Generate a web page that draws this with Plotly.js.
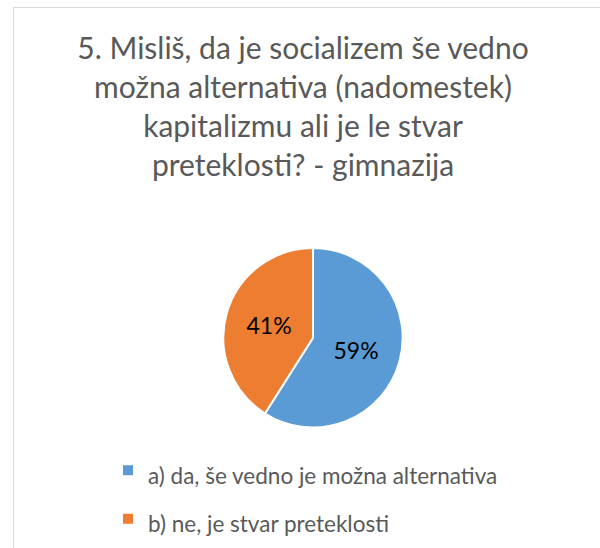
<!DOCTYPE html>
<html>
<head>
<meta charset="utf-8">
<script src="https://cdn.plot.ly/plotly-3.0.1.min.js"></script>
<style>
html, body { margin: 0; padding: 0; background: #ffffff; }
#frame { position: absolute; left: 13px; top: 7px; width: 640px; height: 600px; border: 1.5px solid #d9d9d9; box-sizing: border-box; }
#chart { position: absolute; left: 0; top: 0; width: 600px; height: 548px; }
</style>
</head>
<body>
<div id="frame"></div>
<div id="chart"></div>
<script>
const titleLines = ["5. Misliš, da je socializem še vedno", "možna alternativa (nadomestek)", "kapitalizmu ali je le stvar", "preteklosti? - gimnazija"];
const categories = ["a) da, še vedno je možna alternativa", "b) ne, je stvar preteklosti"];
const values = [59, 41];
const colors = ["#5B9BD5", "#ED7D31"];

const FONT = "Lato, 'Open Sans', sans-serif";

const data = [{
  type: "pie",
  labels: categories.map(c => '<span style="font-size:22.5px">' + c + '</span>'),
  values: values,
  sort: false,
  direction: "clockwise",
  rotation: 0,
  marker: { colors: colors, line: { color: "#ffffff", width: 2 } },
  textinfo: "percent",
  texttemplate: "%{percent:.0%}",
  textposition: "inside",
  insidetextorientation: "horizontal",
  insidetextfont: { family: FONT, size: 23, color: "#000000" },
  hoverinfo: "label+percent",
  domain: { x: [223/600, 403/600], y: [1 - 429/548, 1 - 249/548] }
}];

const layout = {
  width: 600,
  height: 548,
  margin: { l: 0, r: 0, t: 0, b: 0 },
  paper_bgcolor: "rgba(0,0,0,0)",
  plot_bgcolor: "rgba(0,0,0,0)",
  font: { family: FONT, color: "#595959" },
  title: {
    text: titleLines.join("<br>"),
    font: { family: FONT, size: 30, color: "#595959" },
    x: 0.505,
    xanchor: "center",
    y: 1 - 59/548,
    yanchor: "top",
    yref: "container"
  },
  showlegend: true,
  legend: {
    orientation: "v",
    x: 108/600,
    xanchor: "left",
    y: 1 - 443/548,
    yanchor: "top",
    font: { family: FONT, size: 35, color: "#595959" },
    itemwidth: 30,
    bgcolor: "rgba(0,0,0,0)"
  }
};

Plotly.newPlot("chart", data, layout, { displayModeBar: false, staticPlot: true });
</script>
</body>
</html>
